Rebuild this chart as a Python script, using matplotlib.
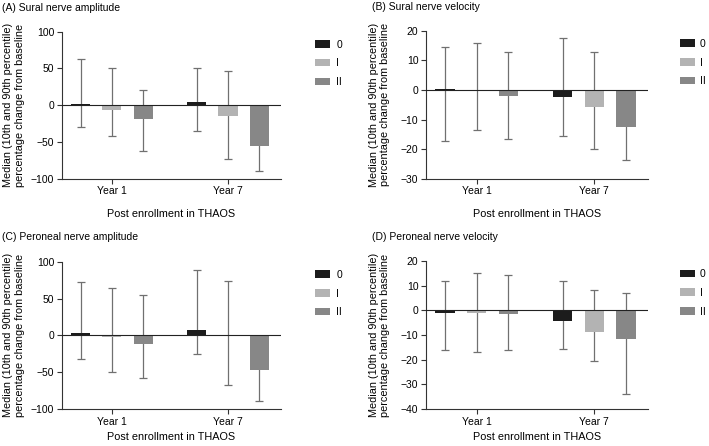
import matplotlib
matplotlib.use("Agg")
import matplotlib.pyplot as plt
import numpy as np
from matplotlib.patches import Patch

plt.rcParams['font.family'] = ['Liberation Sans', 'DejaVu Sans']

groups = ['Year 1', 'Year 7']
stages = ['0', 'I', 'II']
colors = ['#1c1c1c', '#b3b3b3', '#878787']

# median, 10th and 90th percentile per stage (rows) for Year 1 / Year 7 (cols)
sural_amp_med = [[2, 5], [-7, -14], [-19, -55]]
sural_amp_p10 = [[-30, -35], [-42, -73], [-62, -90]]
sural_amp_p90 = [[63, 51], [50, 46], [21, -20]]

sural_vel_med = [[0.5, -2.3], [0, -5.8], [-2, -12.6]]
sural_vel_p10 = [[-17.3, -15.7], [-13.6, -19.8], [-16.7, -23.7]]
sural_vel_p90 = [[14.5, 17.5], [16, 12.8], [12.8, -5]]

peron_amp_med = [[3, 8], [-2, -1], [-12, -47]]
peron_amp_p10 = [[-32, -25], [-50, -68], [-58, -89]]
peron_amp_p90 = [[73, 89], [65, 74], [55, -20]]

peron_vel_med = [[-1, -4.2], [-1.3, -8.7], [-1.5, -11.7]]
peron_vel_p10 = [[-16.3, -15.8], [-16.8, -20.6], [-15.9, -33.8]]
peron_vel_p90 = [[11.7, 11.7], [15, 8.2], [14.2, 7]]

panels = [
    ('(A) Sural nerve amplitude', sural_amp_med, sural_amp_p10, sural_amp_p90, (-100, 100), [-100, -50, 0, 50, 100]),
    ('(B) Sural nerve velocity', sural_vel_med, sural_vel_p10, sural_vel_p90, (-30, 20), [-30, -20, -10, 0, 10, 20]),
    ('(C) Peroneal nerve amplitude', peron_amp_med, peron_amp_p10, peron_amp_p90, (-100, 100), [-100, -50, 0, 50, 100]),
    ('(D) Peroneal nerve velocity', peron_vel_med, peron_vel_p10, peron_vel_p90, (-40, 20), [-40, -30, -20, -10, 0, 10, 20]),
]

# axes rectangles in figure fraction [left, bottom, width, height]
rects = [
    [0.0874, 0.599, 0.309, 0.330],
    [0.601, 0.599, 0.313, 0.332],
    [0.0874, 0.083, 0.309, 0.330],
    [0.601, 0.083, 0.313, 0.332],
]
title_pos = [(0.003, 0.983), (0.525, 0.985), (0.003, 0.469), (0.525, 0.469)]
ylabel_x = [-0.169, -0.162, -0.169, -0.162]
legend_x = [1.112, 1.101, 1.112, 1.101]
xlabel_pad = [9, 9, 4, 4]

fig = plt.figure(figsize=(7.09, 4.46), dpi=100)
x = np.arange(len(groups))
offset = 0.27
width = 0.165

for k, ((title, med, p10, p90, ylim, yticks), rect, tpos) in enumerate(zip(panels, rects, title_pos)):
    ax = fig.add_axes(rect)
    for i, st in enumerate(stages):
        m = np.array(med[i], dtype=float)
        lo = m - np.array(p10[i])
        hi = np.array(p90[i]) - m
        xi = x + (i - 1) * offset
        ax.errorbar(xi, m, yerr=[lo, np.clip(hi, 0, None)], fmt='none',
                    ecolor='#707070', elinewidth=0.9, capsize=3.2, capthick=0.9, zorder=1)
        ax.bar(xi, m, width=width, color=colors[i], zorder=2)
    ax.axhline(0, color='#222222', linewidth=0.8, zorder=3)
    ax.set_xlim(-0.43, 1.457)
    ax.set_ylim(*ylim)
    ax.set_yticks(yticks)
    ax.set_yticklabels([str(t).replace('-', '\u2212') for t in yticks])
    ax.set_xticks(x)
    ax.set_xticklabels(groups)
    for s in ['top', 'right']:
        ax.spines[s].set_visible(False)
    for s in ['left', 'bottom']:
        ax.spines[s].set_color('#333333')
        ax.spines[s].set_linewidth(0.8)
    ax.tick_params(labelsize=7.5, length=3.5, width=0.8, color='#333333', pad=2)
    ax.set_xlabel('Post enrollment in THAOS', fontsize=7.8, labelpad=xlabel_pad[k])
    ax.set_ylabel('Median (10th and 90th percentile)\npercentage change from baseline',
                  fontsize=7.8, linespacing=1.2)
    ax.yaxis.set_label_coords(ylabel_x[k], 0.5)
    fig.text(tpos[0], tpos[1], title, fontsize=7.5, ha='left', va='center')
    handles = [Patch(facecolor=c, label=s) for c, s in zip(colors, stages)]
    ax.legend(handles=handles, loc='upper left', bbox_to_anchor=(legend_x[k], 1.01), frameon=False,
              fontsize=7.5, handlelength=1.45, handleheight=0.7, labelspacing=0.85,
              handletextpad=0.6 if k % 2 == 0 else 0.45)

fig.savefig('out.png', dpi=100)
